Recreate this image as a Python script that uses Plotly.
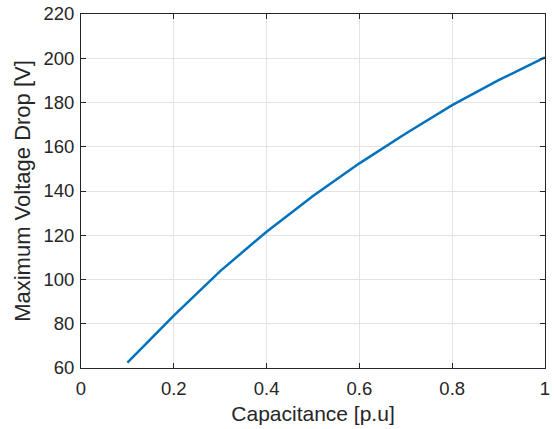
import plotly.graph_objects as go

capacitance = [0.1, 0.2, 0.3, 0.4, 0.5, 0.6, 0.7, 0.8, 0.9, 1.0]
voltage_drop = [62.4, 83.7, 103.8, 121.6, 137.7, 152.5, 166.0, 178.8, 190.1, 200.4]
x_ticks = [0, 0.2, 0.4, 0.6, 0.8, 1]
x_tick_labels = ["0", "0.2", "0.4", "0.6", "0.8", "1"]
y_ticks = [60, 80, 100, 120, 140, 160, 180, 200, 220]

FONT = "Liberation Sans, Arial"

fig = go.Figure()
fig.add_trace(go.Scatter(x=capacitance, y=voltage_drop, mode="lines",
                         line=dict(color="#0072BD", width=2.5), showlegend=False))

axis_common = dict(showline=True, linecolor="#262626", linewidth=1, mirror="ticks",
                   ticks="inside", ticklen=5, tickcolor="#262626",
                   showgrid=True, gridcolor="#E3E3E3", gridwidth=1, zeroline=False,
                   automargin=False,
                   tickfont=dict(family=FONT, size=18.5, color="#262626"))

fig.update_layout(
    width=554, height=429,
    margin=dict(l=81, r=9, t=14, b=61),
    plot_bgcolor="white", paper_bgcolor="white",
    xaxis=dict(range=[0, 1], tickvals=x_ticks, ticktext=x_tick_labels,
               ticklabelstandoff=4,
               title=dict(text="Capacitance [p.u]", standoff=8,
                          font=dict(family=FONT, size=21, color="#262626")),
               **axis_common),
    yaxis=dict(range=[60, 220], tickvals=y_ticks,
               ticklabelstandoff=2,
               title=dict(text="Maximum Voltage Drop [V]", standoff=6,
                          font=dict(family=FONT, size=22, color="#262626")),
               **axis_common),
)

fig.write_html("out.html", config={"displayModeBar": False})

with open("out.html", "r", encoding="utf-8") as f:
    html = f.read()
html = html.replace("<head>", "<head><style>html,body{margin:0;padding:0;overflow:hidden;}</style>", 1)
with open("out.html", "w", encoding="utf-8") as f:
    f.write(html)
